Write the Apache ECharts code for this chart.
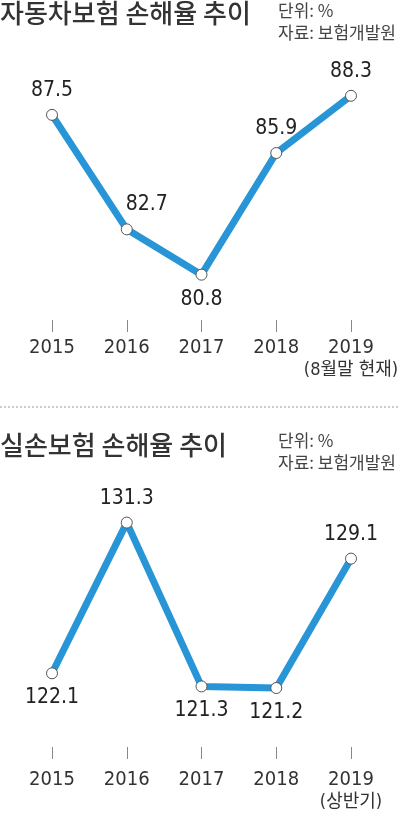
<!DOCTYPE html>
<html>
<head>
<meta charset="utf-8">
<script src="https://cdn.jsdelivr.net/npm/echarts@6/dist/echarts.min.js"></script>
<style>
  html, body { margin: 0; padding: 0; background: #fff; }
  #chart { width: 400px; height: 814px; }
</style>
</head>
<body>
<div id="chart"></div>
<script>
// data
var carYears = ['2015', '2016', '2017', '2018', '2019\n(8월말 현재)'];
var carLoss = [87.5, 82.7, 80.8, 85.9, 88.3];
var medYears = ['2015', '2016', '2017', '2018', '2019\n(상반기)'];
var medLoss = [122.1, 131.3, 121.3, 121.2, 129.1];

var numFont = '"Liberation Sans Narrow", "DejaVu Sans Condensed", "Noto Sans CJK KR", sans-serif';
var krFont = '"Noto Sans CJK KR", sans-serif';
var lineBlue = '#2896d6';

// turn values into data items, with label side per point
function points(values, sides, offsets) {
    return values.map(function (v, i) {
        return {
            value: v,
            label: { position: sides[i], offset: offsets[i] || [0, 0] }
        };
    });
}

function lineSeries(idx, data) {
    return {
        type: 'line',
        xAxisIndex: idx,
        yAxisIndex: idx,
        data: data,
        symbol: 'circle',
        symbolSize: 11,
        showAllSymbol: true,
        lineStyle: { color: lineBlue, width: 7 },
        itemStyle: { color: '#fff', borderColor: '#555', borderWidth: 1 },
        label: {
            show: true,
            distance: 8,
            fontFamily: numFont,
            fontSize: 21,
            color: '#222'
        },
        animation: false,
        z: 3
    };
}

function catAxis(idx, labels, margin) {
    return {
        type: 'category',
        gridIndex: idx,
        data: labels,
        boundaryGap: false,
        axisLine: { show: false },
        axisTick: { show: true, interval: 0, length: 12, lineStyle: { color: '#888', width: 1 } },
        axisLabel: {
            interval: 0,
            margin: margin,
            fontFamily: numFont,
            fontSize: 20,
            lineHeight: 22,
            color: '#333',
            // second line (period note) a bit smaller
            formatter: function (v) {
                var parts = v.split('\n');
                return parts.length > 1 ? parts[0] + '\n{sub|' + parts[1] + '}' : v;
            },
            rich: {
                sub: { fontFamily: numFont, fontSize: 18, lineHeight: 22, color: '#333' }
            }
        },
        splitLine: { show: false }
    };
}

function valAxis(idx, min, max) {
    return {
        type: 'value',
        gridIndex: idx,
        min: min,
        max: max,
        show: false
    };
}

function heading(text, top) {
    return {
        text: text,
        left: 0,
        top: top,
        padding: 0,
        textStyle: { fontFamily: krFont, fontSize: 26, fontWeight: 500, color: '#333' }
    };
}

function note(top) {
    return {
        text: '단위: %\n자료: 보험개발원',
        left: 278,
        top: top,
        padding: 0,
        textStyle: { fontFamily: krFont, fontSize: 17, fontWeight: 'normal', color: '#444', lineHeight: 22 }
    };
}

var myChart = echarts.init(document.getElementById('chart'));

var option = {
    backgroundColor: '#fff',
    animation: false,
    title: [
        heading('자동차보험 손해율 추이', 0),
        note(0),
        heading('실손보험 손해율 추이', 432),
        note(430)
    ],
    grid: [
        { left: 52, right: 49, top: 60, bottom: 494, outerBoundsMode: 'none' },
        { left: 52, right: 49, top: 480, bottom: 67, outerBoundsMode: 'none' }
    ],
    xAxis: [
        catAxis(0, carYears, 17),
        catAxis(1, medYears, 22)
    ],
    yAxis: [
        valAxis(0, 78.9, 89.8),
        valAxis(1, 117.6, 133.9)
    ],
    series: [
        lineSeries(0, points(carLoss,
            ['top', 'top', 'bottom', 'top', 'top'],
            [null, [20, 0], null, null, null])),
        lineSeries(1, points(medLoss,
            ['bottom', 'top', 'bottom', 'bottom', 'top'],
            []))
    ],
    graphic: [
        {
            type: 'line',
            shape: { x1: 0, y1: 407, x2: 400, y2: 407 },
            style: { stroke: '#999', lineWidth: 1, lineDash: [2, 2] }
        }
    ]
};

option && myChart.setOption(option);
</script>
</body>
</html>
